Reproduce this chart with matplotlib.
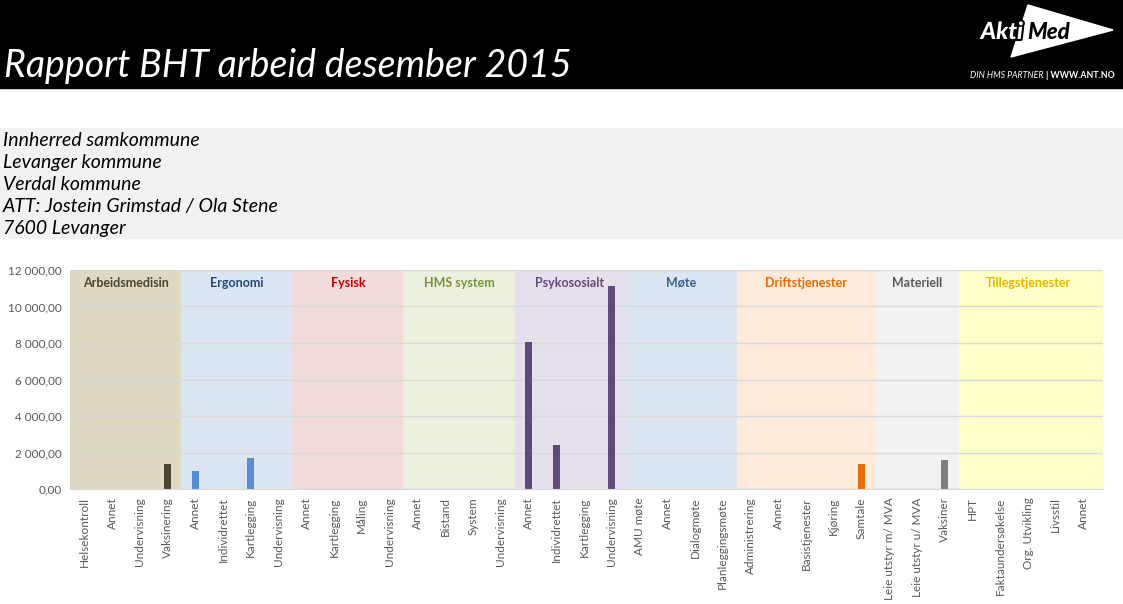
import numpy as np
import matplotlib.pyplot as plt
import matplotlib.patheffects as pe
from matplotlib.patches import Rectangle, Polygon
from matplotlib.ticker import FuncFormatter

# ---------------------------------------------------------
# data
# ---------------------------------------------------------
grupper = ["Arbeidsmedisin", "Ergonomi", "Fysisk", "HMS system", "Psykososialt",
           "Møte", "Driftstjenester", "Materiell", "Tillegstjenester"]

poster = [
    ["Helsekontroll", "Annet", "Undervisning", "Vaksinering"],
    ["Annet", "Individrettet", "Kartlegging", "Undervisning"],
    ["Annet", "Kartlegging", "Måling", "Undervisning"],
    ["Annet", "Bistand", "System", "Undervisning"],
    ["Annet", "Individrettet", "Kartlegging", "Undervisning"],
    ["AMU møte", "Annet", "Dialogmøte", "Planleggingsmøte"],
    ["Administrering", "Annet", "Basistjenester", "Kjøring", "Samtale"],
    ["Leie utstyr m/ MVA", "Leie utstyr u/ MVA", "Vaksiner"],
    ["HPT", "Faktaundersøkelse", "Org. Utvikling", "Livsstil", "Annet"],
]

verdier = [
    [0, 0, 0, 1370],
    [1000, 0, 1700, 0],
    [0, 0, 0, 0],
    [0, 0, 0, 0],
    [8050, 2410, 0, 11120],
    [0, 0, 0, 0],
    [0, 0, 0, 0, 1370],
    [0, 0, 1590],
    [0, 0, 0, 0, 0],
]

adresse = ["Innherred samkommune", "Levanger kommune", "Verdal kommune",
           "ATT: Jostein Grimstad / Ola Stene", "7600 Levanger"]

# farger
bakgrunn = ["#ddd9c3", "#dce6f2", "#f2dcdb", "#ebf1de", "#e6e0ec",
            "#dce6f2", "#fdeada", "#f2f2f2", "#ffffcc"]
tekstfarge = ["#4a4430", "#1f497d", "#c00000", "#77933c", "#604a7b",
              "#376092", "#e46c0a", "#595959", "#e6b800"]
stolpefarge = ["#4a4430", "#558ed5", "#c0504d", "#9bbb59", "#604a7b",
               "#4f81bd", "#e46c0a", "#7f7f7f", "#ffc000"]

FONT = "Lato"
W, H = 1123, 604

def fx(x): return x / W
def fy(y): return 1 - y / H

fig = plt.figure(figsize=(W / 100, H / 100), dpi=100)

# ---------------------------------------------------------
# header
# ---------------------------------------------------------
fig.add_artist(Rectangle((0, fy(88)), 1, 88 / H, transform=fig.transFigure,
                         color="black", zorder=0))
fig.text(fx(4), fy(77), "Rapport BHT arbeid desember 2015", color="white",
         fontsize=27, style="italic", family=FONT, va="baseline", ha="left")

# logo
tri = [(fx(1028), fy(5)), (fx(1113), fy(30)), (fx(1011), fy(57))]
fig.add_artist(Polygon(tri, closed=True, transform=fig.transFigure,
                       color="white", zorder=1))
fig.text(fx(1023), fy(39), "Akti", color="white", fontsize=17, weight="black",
         style="italic", family=FONT, ha="right", va="baseline", zorder=2,
         path_effects=[pe.withStroke(linewidth=3, foreground="black")])
fig.text(fx(1027), fy(39), "Med", color="black", fontsize=16, weight="black",
         style="italic", family=FONT, ha="left", va="baseline", zorder=2)
fig.text(fx(1044), fy(78), "DIN HMS PARTNER", color="white", fontsize=6.3,
         style="italic", family=FONT, ha="right", va="baseline")
fig.text(fx(1046), fy(78), "| WWW.ANT.NO", color="white", fontsize=6.3,
         weight="bold", family=FONT, ha="left", va="baseline")

# adresseboks
fig.add_artist(Rectangle((0, fy(238)), 1, 110 / H, transform=fig.transFigure,
                         color="#f2f2f2", zorder=0))
for i, linje in enumerate(adresse):
    fig.text(fx(3), fy(146 + 22 * i), linje, color="black", fontsize=14,
             style="italic", family=FONT, ha="left", va="baseline")

# ---------------------------------------------------------
# diagram
# ---------------------------------------------------------
ax = fig.add_axes([fx(70.4), fy(489), (1103 - 70.4) / W, 219 / H])

xmax = sum(len(p) for p in poster) - 0.3
etiketter, hoyder, farger = [], [], []
start = 0
for g, (navn, p, v) in enumerate(zip(grupper, poster, verdier)):
    n = len(p)
    slutt = xmax if g == len(grupper) - 1 else start + n - 0.5
    ax.axvspan(start - 0.5, slutt, color=bakgrunn[g], lw=0, zorder=0)
    ax.text(start + (n - 1) / 2, 11300, navn, color=tekstfarge[g], fontsize=9,
            weight="bold", family=FONT, ha="center", va="center", zorder=3)
    etiketter += p
    hoyder += v
    farger += [stolpefarge[g]] * n
    start += n

x = np.arange(len(etiketter))
ax.bar(x, hoyder, width=0.25, color=farger, zorder=2)

ax.set_xlim(-0.5, xmax)
ax.set_ylim(0, 12000)
ax.set_yticks(np.arange(0, 12001, 2000))
ax.yaxis.set_major_formatter(FuncFormatter(
    lambda v, _: f"{v:,.2f}".replace(",", " ").replace(".", ",")))
ax.set_xticks(x)
ax.set_xticklabels(etiketter, rotation=90, family=FONT, fontsize=8.5,
                   color="#595959")
for t in ax.get_yticklabels():
    t.set_family(FONT)
    t.set_fontsize(8.5)
    t.set_color("#595959")
ax.tick_params(length=0, pad=6)
ax.grid(axis="y", color="#d9d9d9", lw=1, zorder=1)
for s in ["top", "right", "left"]:
    ax.spines[s].set_visible(False)
ax.spines["bottom"].set_color("#d9d9d9")
ax.spines["bottom"].set_zorder(3)

fig.savefig("out.png", dpi=100)
